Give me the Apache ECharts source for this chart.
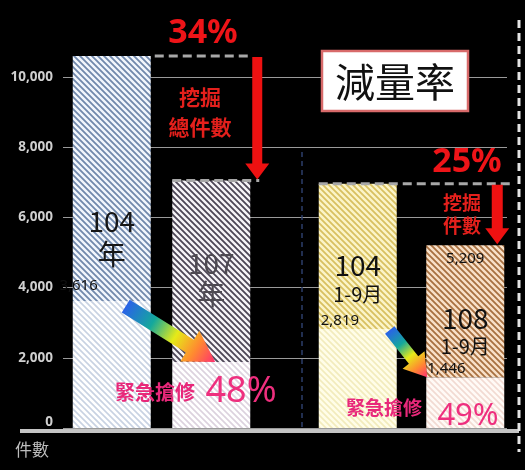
<!DOCTYPE html>
<html>
<head>
<meta charset="utf-8">
<script src="https://cdn.jsdelivr.net/npm/echarts@6/dist/echarts.min.js"></script>
<style>
  html, body { margin: 0; padding: 0; background: #000; }
  #chart { width: 525px; height: 470px; }
</style>
</head>
<body>
<div id="chart"></div>
<script>
// data
const leftCats = ['104年', '107年'];
const rightCats = ['104年1-9月', '108年1-9月'];
const leftTotal = [10600, 7050];      // 挖掘總件數
const leftEmergency = [3616, 1880];   // 緊急搶修
const rightTotal = [6960, 5209];
const rightEmergency = [2819, 1446];
const digRate = ['34%', '25%'];
const emergencyRate = ['48%', '49%'];
const yMin = 0, yMax = 10000, yStep = 2000;

const CJK = '"Noto Sans CJK TC", "Noto Sans", sans-serif';

// diagonal hatch pattern "\\\\", tile is a few periods wide so seams don't show
function stripes(bg, fg, gap, lw) {
    const size = gap * 4;
    const c = document.createElement('canvas');
    c.width = c.height = size;
    const g = c.getContext('2d');
    g.fillStyle = bg;
    g.fillRect(0, 0, size, size);
    g.strokeStyle = fg;
    g.lineWidth = lw;
    g.beginPath();
    for (let o = -2 * size; o <= 2 * size; o += gap) {
        g.moveTo(o - size, -size);
        g.lineTo(o + 2 * size, 2 * size);
    }
    g.stroke();
    return { image: c, repeat: 'repeat' };
}

const fills = {
    leftTop: [stripes('#f2f6fc', '#7088ac', 6, 1.8), stripes('#f6f4f7', '#4c4656', 6, 1.8)],
    leftBottom: [stripes('#ffffff', '#c8d2e2', 6, 1.6), stripes('#ffffff', '#dcd2de', 6, 1.6)],
    rightTop: [stripes('#fbf4c8', '#d8c060', 6, 1.8), stripes('#f8e0c8', '#a87040', 6, 1.8)],
    rightBottom: [stripes('#fffde8', '#f2ebbc', 6, 1.6), stripes('#fffaf6', '#f2dad2', 6, 1.6)]
};

function items(values, colors) {
    return values.map((v, i) => ({ value: v, itemStyle: { color: colors[i] } }));
}
const minus = (a, b) => a.map((v, i) => v - b[i]);

const chart = echarts.init(document.getElementById('chart'));

const hiddenY = (gi) => ({ gridIndex: gi, type: 'value', min: yMin, max: yMax, interval: yStep, show: false, splitLine: { show: false } });

chart.setOption({
    backgroundColor: '#000',
    animation: false,
    grid: [
        { left: 63, right: 18, top: 77, bottom: 42 },
        { left: 62, width: 199, top: 77, bottom: 42 },
        { left: 304, width: 215, top: 77, bottom: 42 }
    ],
    xAxis: [
        { gridIndex: 0, type: 'category', data: [''], show: false },
        { gridIndex: 1, type: 'category', data: leftCats, show: false },
        { gridIndex: 2, type: 'category', data: rightCats, show: false }
    ],
    yAxis: [
        {
            gridIndex: 0, type: 'value', min: yMin, max: yMax, interval: yStep,
            axisLine: { show: false }, axisTick: { show: false },
            axisLabel: {
                color: '#cfcfcf', fontSize: 13.5, fontWeight: 'bold', margin: 10,
                fontFamily: '"Noto Sans", sans-serif',
                formatter: v => v === 0 ? '{z|0}' : v.toLocaleString('en-US'),
                rich: { z: { color: '#cfcfcf', fontSize: 13.5, fontWeight: 'bold', padding: [0, 0, 12, 0] } }
            },
            splitLine: { lineStyle: { color: '#9a9a9a', width: 1 } }
        },
        hiddenY(1),
        hiddenY(2)
    ],
    series: [
        { type: 'bar', xAxisIndex: 1, yAxisIndex: 1, stack: 'l', barWidth: 78, clip: false,
          data: items(leftEmergency, fills.leftBottom) },
        { type: 'bar', xAxisIndex: 1, yAxisIndex: 1, stack: 'l', barWidth: 78, clip: false,
          data: items(minus(leftTotal, leftEmergency), fills.leftTop) },
        { type: 'bar', xAxisIndex: 2, yAxisIndex: 2, stack: 'r', barWidth: 78, clip: false,
          data: items(rightEmergency, fills.rightBottom) },
        { type: 'bar', xAxisIndex: 2, yAxisIndex: 2, stack: 'r', barWidth: 78, clip: false,
          data: items(minus(rightTotal, rightEmergency), fills.rightTop) }
    ]
});

// annotations, placed from the data through the chart's own axes
const px = (gi, cat, val) => chart.convertToPixel({ gridIndex: gi }, [cat, val]);
const [b1x, t1] = px(1, 0, leftTotal[0]);
const [b2x, t2] = px(1, 1, leftTotal[1]);
const [b3x, t3] = px(2, 0, rightTotal[0]);
const [b4x, t4] = px(2, 1, rightTotal[1]);
const e1 = px(1, 0, leftEmergency[0])[1];
const e2 = px(1, 1, leftEmergency[1])[1];
const e3 = px(2, 0, rightEmergency[0])[1];
const e4 = px(2, 1, rightEmergency[1])[1];
const half = 39;

function arrowPts(sx, sy, ex, ey, w, hl, hw) {
    const len = Math.hypot(ex - sx, ey - sy);
    const dx = (ex - sx) / len, dy = (ey - sy) / len;
    const nx = -dy, ny = dx;
    const bx = ex - dx * hl, by = ey - dy * hl;
    return [
        [sx + nx * w / 2, sy + ny * w / 2],
        [bx + nx * w / 2, by + ny * w / 2],
        [bx + nx * hw / 2, by + ny * hw / 2],
        [ex, ey],
        [bx - nx * hw / 2, by - ny * hw / 2],
        [bx - nx * w / 2, by - ny * w / 2],
        [sx - nx * w / 2, sy - ny * w / 2]
    ];
}
function rainbow(sx, sy, ex, ey) {
    return new echarts.graphic.LinearGradient(sx, sy, ex, ey, [
        { offset: 0, color: '#2a62e8' },
        { offset: 0.3, color: '#14a89c' },
        { offset: 0.55, color: '#e6ea18' },
        { offset: 0.78, color: '#ff8a30' },
        { offset: 1, color: '#ff2f72' }
    ], true);
}
const dash = (x1, y1, x2, y2, stroke, lw, ld) => ({
    type: 'line', z: 50, shape: { x1, y1, x2, y2 },
    style: { stroke, lineWidth: lw, lineDash: ld }
});
const txt = (text, x, y, font, fill, align) => ({
    type: 'text', z: 60, x, y,
    style: { text, font, fill, textAlign: align || 'center', textVerticalAlign: 'middle' }
});

const g = [];
// divider lines
g.push(dash(302, 152, 302, 428, '#2c3e6a', 1.5, [5, 4]));
g.push(dash(519, 20, 519, 452, '#e4e4e4', 3, [8, 5]));
// x axis bar
g.push({ type: 'line', z: 40, shape: { x1: 20, y1: 431, x2: 519, y2: 431 }, style: { stroke: '#c4c4c4', lineWidth: 4 } });

// grey dashed level lines
g.push(dash(b1x + half + 4, t1, b2x + 40, t1, '#a8a8a8', 3, [9, 5]));
g.push(dash(b2x - half, t2, b2x + 48, t2, '#a8a8a8', 3, [9, 5]));
g.push(dash(b3x - half, t3, b4x + 45, t3, '#a8a8a8', 3, [9, 5]));

// red arrows
const ra1 = b2x + 46, ra2 = b4x + 32;
g.push({ type: 'polygon', z: 55, shape: { points: arrowPts(ra1, t1 + 1, ra1, t2 - 1, 10, 16, 24) }, style: { fill: '#ee1111' } });
g.push({ type: 'polygon', z: 55, shape: { points: arrowPts(ra2, t3 + 1, ra2, t4 - 1, 11, 16, 24) }, style: { fill: '#ee1111' } });

// rainbow arrows
const a1 = [b1x + 14, e1 + 5, b2x + 4, e2];
const a2 = [b3x + 32, e3 + 1, b4x - 38, e4];
g.push({ type: 'polygon', z: 55, shape: { points: arrowPts(a1[0], a1[1], a1[2], a1[3], 15, 30, 36) }, style: { fill: rainbow(...a1) } });
g.push({ type: 'polygon', z: 55, shape: { points: arrowPts(a2[0], a2[1], a2[2], a2[3], 12, 22, 28) }, style: { fill: rainbow(...a2) } });

// 減量率 box
g.push({ type: 'rect', z: 50, shape: { x: 322, y: 51, width: 146, height: 60 }, style: { fill: '#ffffff', stroke: '#d86a6a', lineWidth: 2.5 } });
g.push(txt('減量率', 395, 82, '40px ' + CJK, '#111111'));

// red texts
g.push(txt(digRate[0], 203, 33, 'bold 34px "Noto Sans", sans-serif', '#ee1418'));
g.push(txt('挖掘', 200, 97, 'bold 21px ' + CJK, '#e4201c'));
g.push(txt('總件數', 200, 127, 'bold 21px ' + CJK, '#e4201c'));
g.push(txt(digRate[1], 467, 162, 'bold 34px "Noto Sans", sans-serif', '#ee1418'));
g.push(txt('挖掘', 462, 203, 'bold 19px ' + CJK, '#e4201c'));
g.push(txt('件數', 462, 226, 'bold 19px ' + CJK, '#e4201c'));

// bar titles
g.push(txt('104', b1x, t1 + 165, '28px ' + CJK, '#161616'));
g.push(txt('年', b1x, t1 + 198, '28px ' + CJK, '#161616'));
g.push(txt('107', b2x, t2 + 83, '28px ' + CJK, '#4e4a52'));
g.push(txt('年', b2x, t2 + 114, '28px ' + CJK, '#4e4a52'));
g.push(txt('104', b3x, t3 + 82, '28px ' + CJK, '#111111'));
g.push(txt('1-9月', b3x, t3 + 111, '20px ' + CJK, '#111111'));
g.push(txt('108', b4x, t4 + 73, '28px ' + CJK, '#111111'));
g.push(txt('1-9月', b4x, t4 + 101, '20px ' + CJK, '#111111'));

// value labels
const nf = v => v.toLocaleString('en-US');
g.push(txt(nf(leftEmergency[0]), b1x - 14, e1 - 15, '15px "Noto Sans", sans-serif', '#111111', 'right'));
g.push(txt(nf(rightEmergency[0]), b3x - 37, e3 - 8, '15px "Noto Sans", sans-serif', '#111111', 'left'));
g.push(txt(nf(rightTotal[1]), b4x, t4 + 14, '15px "Noto Sans", sans-serif', '#111111'));
g.push(txt(nf(rightEmergency[1]), b4x - 38, e4 - 9, '15px "Noto Sans", sans-serif', '#111111', 'left'));

// pink texts
g.push(txt('緊急搶修', 155, 392, 'bold 20px ' + CJK, '#e8287a'));
g.push(txt(emergencyRate[0], 241, 392, '36px "Noto Sans", sans-serif', '#ee2f7e'));
g.push(txt('緊急搶修', 384, 408, 'bold 19px ' + CJK, '#e8287a'));
g.push(txt(emergencyRate[1], 468, 416, '31px "Noto Sans", sans-serif', '#ee2f7e'));

// axis unit
g.push(txt('件數', 32, 450, '17px ' + CJK, '#bdbdbd'));

chart.setOption({ graphic: g });
</script>
</body>
</html>
